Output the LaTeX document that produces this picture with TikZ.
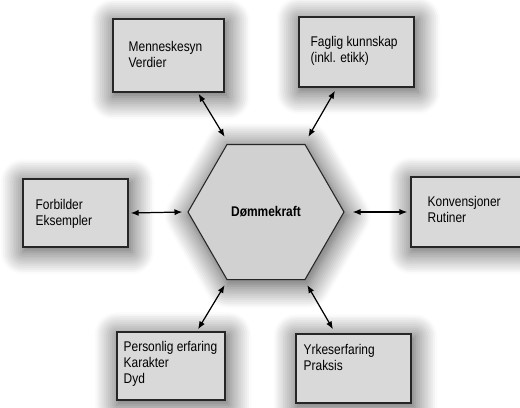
\documentclass[tikz,border=0pt]{standalone}
\usepackage{fontspec}
\setmainfont{Liberation Sans}[FakeStretch=0.85]
\usetikzlibrary{shapes.geometric,arrows.meta,shadows.blur}
\tikzset{
  glow/.style={blur shadow={shadow xshift=1pt, shadow yshift=-2pt, shadow scale=1.04, shadow blur radius=12pt, shadow blur steps=12, shadow opacity=70}},
  box/.style={rectangle, draw=black!85, line width=0.8pt, fill=black!15, inner sep=0pt, glow},
  hexa/.style={regular polygon, regular polygon sides=6, minimum size=3.12cm, inner sep=0pt,
    draw=black!85, line width=0.6pt, fill=black!18, glow, font=\bfseries\fontsize{8}{9}\selectfont},
  txt/.style={anchor=north west, inner sep=0pt, align=left, font=\fontsize{8}{9}\selectfont},
  link/.style={{Latex[length=4.5pt,width=3.5pt]}-{Latex[length=4.5pt,width=3.5pt]}, line width=0.7pt}
}
\begin{document}
\begin{tikzpicture}[x=0.02cm, y=-0.02cm]
      \useasboundingbox (0,0) rectangle (520,407);
      \clip (0,0) rectangle (520,407);
      \path
        (266,212) node[hexa] (kraft) {Dømmekraft}
        (168.5,55.5) node[box, minimum width=2.22cm, minimum height=1.46cm] (menn) {}
        (356.5,52) node[box, minimum width=2.30cm, minimum height=1.40cm] (fag) {}
        (75.5,213) node[box, minimum width=2.10cm, minimum height=1.36cm] (forb) {}
        (468,212) node[box, minimum width=2.28cm, minimum height=1.40cm] (konv) {}
        (171,366) node[box, minimum width=2.16cm, minimum height=1.36cm] (pers) {}
        (353.5,368.5) node[box, minimum width=2.30cm, minimum height=1.38cm] (yrke) {};
      \node[txt] (menn-t) at ([shift={(16,23)}]menn.north west) {Menneskesyn\\Verdier};
      \node[txt] (fag-t) at ([shift={(12,20)}]fag.north west) {Faglig kunnskap\\(inkl. etikk)};
      \node[txt] (forb-t) at ([shift={(13,21)}]forb.north west) {Forbilder\\Eksempler};
      \node[txt] (konv-t) at ([shift={(17,20)}]konv.north west) {Konvensjoner\\Rutiner};
      \node[txt] (pers-t) at ([shift={(7,10)}]pers.north west) {Personlig erfaring\\Karakter\\Dyd};
      \node[txt] (yrke-t) at ([shift={(8,11)}]yrke.north west) {Yrkeserfaring\\Praksis};
      \begin{scope}[link]
        \draw ([shift={(30,1)}]menn.south) to ([shift={(-2,-7)}]kraft.corner 2);
        \draw ([shift={(-21.5,3)}]fag.south) to ([shift={(3,-7)}]kraft.corner 1);
        \draw ([shift={(2,0)}]forb.east) to ([shift={(-5,0)}]kraft.corner 3);
        \draw ([shift={(-3,0)}]konv.west) to ([shift={(8,0)}]kraft.corner 6);
        \draw ([shift={(27,-2)}]pers.north) to ([shift={(-2,5)}]kraft.corner 4);
        \draw ([shift={(-20.5,-4)}]yrke.north) to ([shift={(2,5)}]kraft.corner 5);
      \end{scope}
    \end{tikzpicture}
\end{document}
